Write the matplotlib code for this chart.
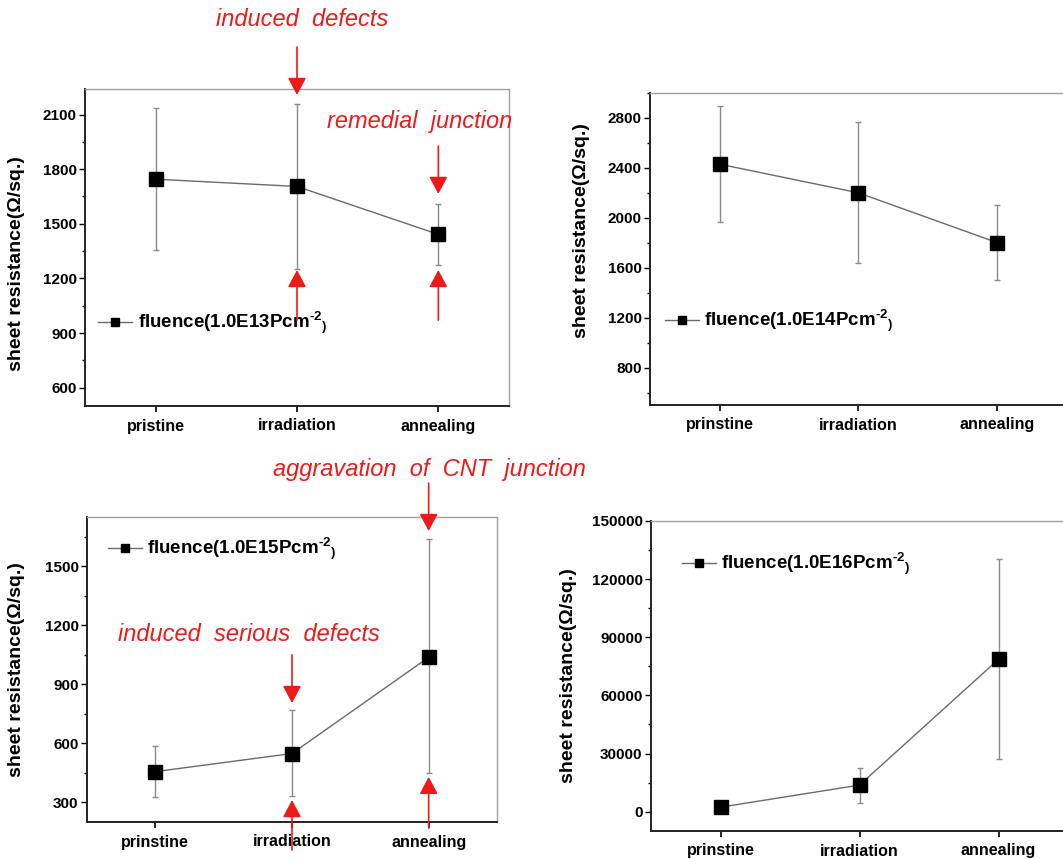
import matplotlib
matplotlib.use('Agg')
import matplotlib.pyplot as plt
import matplotlib.transforms as mtrans
from matplotlib.ticker import MultipleLocator

plt.rcParams['font.family'] = ['Liberation Sans', 'DejaVu Sans']
plt.rcParams['font.weight'] = 'bold'
plt.rcParams['mathtext.fontset'] = 'custom'
plt.rcParams['mathtext.rm'] = 'Liberation Sans:bold'
plt.rcParams['mathtext.it'] = 'Liberation Sans:bold'
plt.rcParams['mathtext.bf'] = 'Liberation Sans:bold'

# ---------------- data ----------------
cats_top_left = ['pristine', 'irradiation', 'annealing']
cats_other = ['prinstine', 'irradiation', 'annealing']

r13 = [1745, 1705, 1442]
r13_hi = [2137, 2157, 1610]
r13_lo = [1356, 1254, 1275]

r14 = [2430, 2200, 1800]
r14_hi = [2893, 2768, 2100]
r14_lo = [1968, 1638, 1500]

r15 = [456, 548, 1037]
r15_hi = [584, 768, 1636]
r15_lo = [329, 330, 447]

r16 = [2300, 13700, 78600]
r16_hi = [3300, 22700, 130600]
r16_lo = [1300, 4700, 27200]

labels = [r'fluence(1.0E13Pcm$^{\text{-}\mathbf{2}}$$_{)}$',
          r'fluence(1.0E14Pcm$^{\text{-}\mathbf{2}}$$_{)}$',
          r'fluence(1.0E15Pcm$^{\text{-}\mathbf{2}}$$_{)}$',
          r'fluence(1.0E16Pcm$^{\text{-}\mathbf{2}}$$_{)}$']

ylabel = 'sheet resistance(\u03a9/sq.)'
RED = '#ee1a1a'

W, H = 1063, 859
fig = plt.figure(figsize=(W / 100, H / 100), dpi=100)


def px_axes(l, t, r, b):
    return fig.add_axes([l / W, 1 - b / H, (r - l) / W, (b - t) / H])


def panel(ax, cats, vals, hi, lo, label, ylim, major, minor, yticks_lo,
          leg_xy, ylab_xy):
    x = list(range(len(cats)))
    yerr = [[v - l for v, l in zip(vals, lo)], [h - v for v, h in zip(vals, hi)]]
    ax.errorbar(x, vals, yerr=yerr, fmt='none', ecolor='#8a8a8a',
                elinewidth=1.0, capsize=2.2, capthick=1.0, zorder=2)
    ax.plot(x, vals, '-s', color='#6a6a6a', lw=1.0, mfc='black', mec='black',
            ms=10, label=label, zorder=3)
    ax.set_xlim(-0.5, 2.5)
    ax.set_ylim(*ylim)
    ax.set_xticks(x)
    ax.set_xticklabels(cats, fontsize=11.5, fontweight='bold')
    ax.yaxis.set_major_locator(MultipleLocator(major))
    ax.yaxis.set_minor_locator(MultipleLocator(minor))
    ticks = [t for t in ax.get_yticks() if yticks_lo <= t <= ylim[1]]
    ax.set_yticks(ticks)
    for t in ax.get_yticklabels():
        t.set_fontweight('bold')
        t.set_fontsize(11)
    ax.tick_params(axis='y', which='major', direction='out', length=4,
                   width=1, pad=2)
    ax.tick_params(axis='y', which='minor', direction='out', length=2.5,
                   width=1)
    ax.tick_params(axis='x', which='major', direction='out', length=4,
                   width=1.2, pad=5)
    for s in ['left', 'bottom']:
        ax.spines[s].set_color('#222222')
        ax.spines[s].set_linewidth(1.4)
    for s in ['top', 'right']:
        ax.spines[s].set_color('#a0a0a0')
        ax.spines[s].set_linewidth(1.0)
    ax.set_ylabel(ylabel, fontsize=14, fontweight='bold')
    ax.yaxis.set_label_coords(*ylab_xy)
    leg = ax.legend(loc='center left', bbox_to_anchor=leg_xy, frameon=False,
                    borderpad=0, borderaxespad=0, handlelength=1.8,
                    handletextpad=0.3, prop={'weight': 'bold', 'size': 13.5})
    h = leg.legend_handles[0]
    h.set_markersize(5.5)
    h.set_color('#6a6a6a')
    h.set_markerfacecolor('black')
    h.set_markeredgecolor('black')


def arrow(ax, x, y_tail, y_tip):
    tr = mtrans.blended_transform_factory(ax.transData, ax.transAxes)
    ax.annotate('', xy=(x, y_tip), xycoords=tr, xytext=(x, y_tail),
                textcoords=tr, annotation_clip=False, zorder=6,
                arrowprops=dict(arrowstyle='-|>,head_length=1.05,head_width=0.56',
                                color=RED, lw=1.2, shrinkA=0, shrinkB=0))


def note(ax, x, y, s):
    tr = mtrans.blended_transform_factory(ax.transData, ax.transAxes)
    ax.text(x, y, s, transform=tr, color=RED, fontsize=17, fontstyle='italic',
            fontweight='normal', ha='center', va='center', zorder=6,
            clip_on=False)


ax1 = px_axes(85, 89, 509, 406)
panel(ax1, cats_top_left, r13, r13_hi, r13_lo, labels[0], (500, 2240),
      300, 150, 600, (0.031, 0.262), (-0.142, 0.448))
ax2 = px_axes(650, 93, 1067, 405)
panel(ax2, cats_other, r14, r14_hi, r14_lo, labels[1], (500, 3000),
      400, 200, 800, (0.036, 0.269), (-0.144, 0.56))
ax3 = px_axes(87, 517, 497, 822)
panel(ax3, cats_other, r15, r15_hi, r15_lo, labels[2], (200, 1750),
      300, 150, 300, (0.051, 0.895), (-0.151, 0.50))
ax4 = px_axes(651, 521, 1068, 831)
panel(ax4, cats_other, r16, r16_hi, r16_lo, labels[3], (-10000, 150000),
      30000, 15000, 0, (0.074, 0.861), (-0.177, 0.50))

# annotations, top-left panel
note(ax1, 1.04, 1.218, 'induced  defects')
arrow(ax1, 1, 1.1325, 0.981)
note(ax1, 1.865, 0.896, 'remedial  junction')
arrow(ax1, 2, 0.820, 0.669)
arrow(ax1, 1, 0.271, 0.429)
arrow(ax1, 2, 0.271, 0.429)

# annotations, bottom-left panel
note(ax3, 2.007, 1.157, 'aggravation  of  CNT  junction')
arrow(ax3, 2, 1.111, 0.954)
note(ax3, 0.686, 0.616, 'induced  serious  defects')
arrow(ax3, 1, 0.548, 0.390)
arrow(ax3, 1, -0.092, 0.072)
arrow(ax3, 2, -0.020, 0.148)

fig.savefig('out.png', dpi=100, facecolor='white')
